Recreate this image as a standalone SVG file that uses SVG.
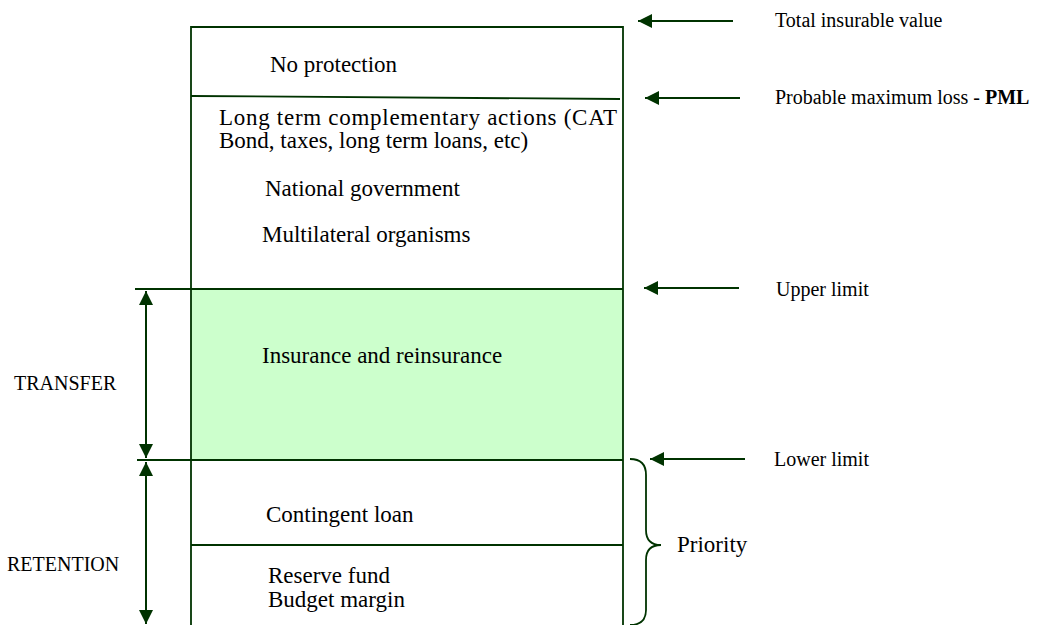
<svg xmlns="http://www.w3.org/2000/svg" width="1040" height="625" viewBox="0 0 1040 625">
  <style>
    .ln { stroke: #003300; stroke-width: 1.8; fill: none; }
    .ar { stroke: #003300; stroke-width: 2; fill: none; }
    .t { font-family: "Liberation Serif", "Times New Roman", serif; font-size: 23px; fill: #000; }
    .s { font-family: "Liberation Serif", "Times New Roman", serif; font-size: 20px; fill: #000; }
  </style>
  <defs>
    <marker id="ah" viewBox="0 0 14 14" refX="14" refY="7" markerWidth="14" markerHeight="14" markerUnits="userSpaceOnUse" orient="auto-start-reverse">
      <path d="M0,0 L14,7 L0,14 z" fill="#003300"/>
    </marker>
  </defs>
  <rect width="1040" height="625" fill="#ffffff"/>

  <g id="band-transfer">
    <rect x="191" y="289" width="432" height="171" fill="#CCFFCC"/>
    <text class="t" x="262" y="363">Insurance and reinsurance</text>
  </g>

  <g id="frame">
    <path class="ln" d="M191,625 V27 H623 V625"/>
    <path class="ln" d="M191,96 L620,99"/>
    <path class="ln" d="M135,289 H623"/>
    <path class="ln" d="M137,460 H623"/>
    <path class="ln" d="M191,545 H623"/>
  </g>

  <g id="band-no-protection">
    <text class="t" x="270" y="72">No protection</text>
  </g>
  <g id="band-long-term">
    <text class="t" x="219" y="125" textLength="398" lengthAdjust="spacing">Long term complementary actions (CAT</text>
    <text class="t" x="219" y="148">Bond, taxes, long term loans, etc)</text>
    <text class="t" x="265" y="196">National government</text>
    <text class="t" x="262" y="242">Multilateral organisms</text>
  </g>
  <g id="band-contingent">
    <text class="t" x="266" y="522">Contingent loan</text>
  </g>
  <g id="band-reserve">
    <text class="t" x="268" y="583">Reserve fund</text>
    <text class="t" x="268" y="607">Budget margin</text>
  </g>

  <g id="label-total"><text class="s" x="775" y="27">Total insurable value</text></g>
  <g id="label-pml"><text class="s" x="775" y="104">Probable maximum loss - <tspan font-weight="bold">PML</tspan></text></g>
  <g id="label-upper"><text class="s" x="776" y="296">Upper limit</text></g>
  <g id="label-lower"><text class="s" x="774" y="466">Lower limit</text></g>
  <g id="label-transfer"><text class="s" x="14" y="390">TRANSFER</text></g>
  <g id="label-retention"><text class="s" x="7" y="571">RETENTION</text></g>
  <g id="label-priority">
    <path class="ln" d="M630,459 Q646,459 646,475 L646,530 Q646,545 661,545 Q646,545 646,560 L646,610 Q646,625 630,625"/>
    <text class="t" x="677" y="552">Priority</text>
  </g>

  <g id="connectors">
    <line class="ar" x1="733" y1="21" x2="638" y2="21" marker-end="url(#ah)"/>
    <line class="ar" x1="740" y1="98" x2="645" y2="98" marker-end="url(#ah)"/>
    <line class="ar" x1="739" y1="288" x2="644" y2="288" marker-end="url(#ah)"/>
    <line class="ar" x1="745" y1="459" x2="650" y2="459" marker-end="url(#ah)"/>
    <line class="ar" x1="146" y1="291" x2="146" y2="458" marker-start="url(#ah)" marker-end="url(#ah)"/>
    <line class="ar" x1="146" y1="462" x2="146" y2="624" marker-start="url(#ah)" marker-end="url(#ah)"/>
  </g>
</svg>
